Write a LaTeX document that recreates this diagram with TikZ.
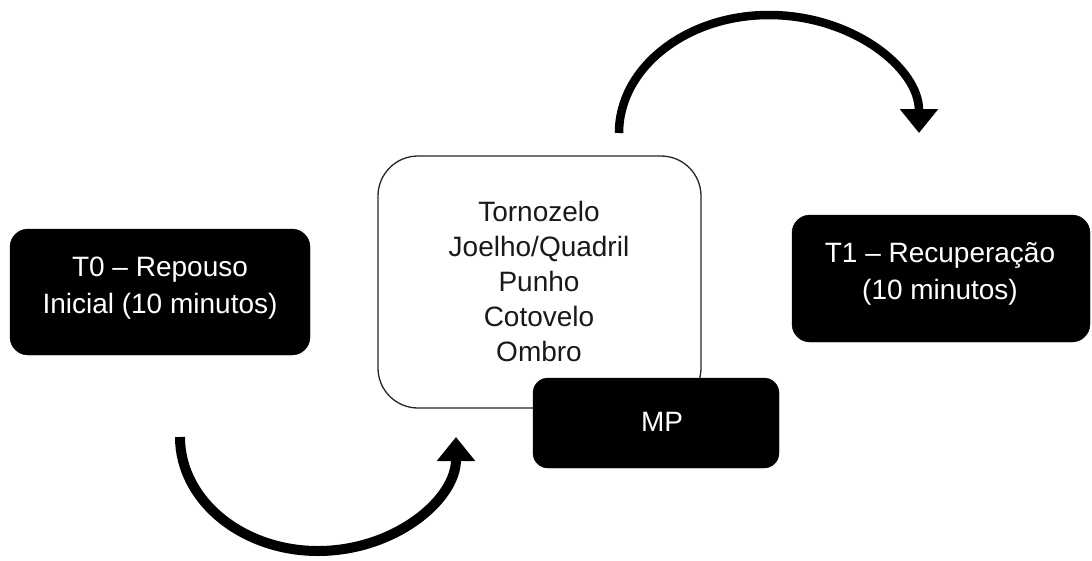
\documentclass[tikz,border=0pt]{standalone}
\usepackage{fontspec}
\setmainfont{Liberation Sans}
\usetikzlibrary{arrows.meta}
\begin{document}
\begin{tikzpicture}[x=1pt,y=1pt,
  blackbox/.style={fill=black, draw=black, rounded corners=18pt, inner sep=0pt},
  whitebox/.style={fill=white, draw=black!85, line width=1.3pt, rounded corners=40pt, inner sep=0pt},
  wtext/.style={text=white, font=\fontsize{28}{37}\selectfont, align=center, inner sep=0pt},
  btext/.style={text=black!90, font=\fontsize{28}{35.2}\selectfont, align=center, inner sep=0pt},
  bigarrow/.style={line width=#1, -{Triangle[width=37pt,length=24pt]}}]
\useasboundingbox (0,0) rectangle (1092,-560);
% T0
\node[blackbox, minimum width=300pt, minimum height=126pt] (t0) at (160,-292) {};
\node[wtext] (t0t) at (160,-288) {T0 – Repouso\\Inicial (10 minutos)};
% T1
\node[blackbox, minimum width=298pt, minimum height=127pt] (t1) at (941,-278.5) {};
\node[wtext] (t1t) at (940,-273.5) {T1 – Recuperação\\(10 minutos)};
% centre box
\node[whitebox, minimum width=323pt, minimum height=252pt] (mid) at (539.5,-282) {};
\node[btext] (midt) at (539,-281.5) {Tornozelo\\Joelho/Quadril\\Punho\\Cotovelo\\Ombro};
% MP
\node[blackbox, rounded corners=15pt, minimum width=246pt, minimum height=90pt] (mp) at (656,-423) {};
\node[wtext] (mpt) at (662,-422) {MP};
% arrows
\coordinate (b1) at (180,-437);
\coordinate (a1) at (619,-133);
\draw[bigarrow=10pt] (b1) arc[start angle=180, end angle=360, x radius=138pt, y radius=114pt];
\draw[bigarrow=8.5pt] (a1) arc[start angle=180, end angle=0, x radius=150pt, y radius=118pt];
\end{tikzpicture}
\end{document}
